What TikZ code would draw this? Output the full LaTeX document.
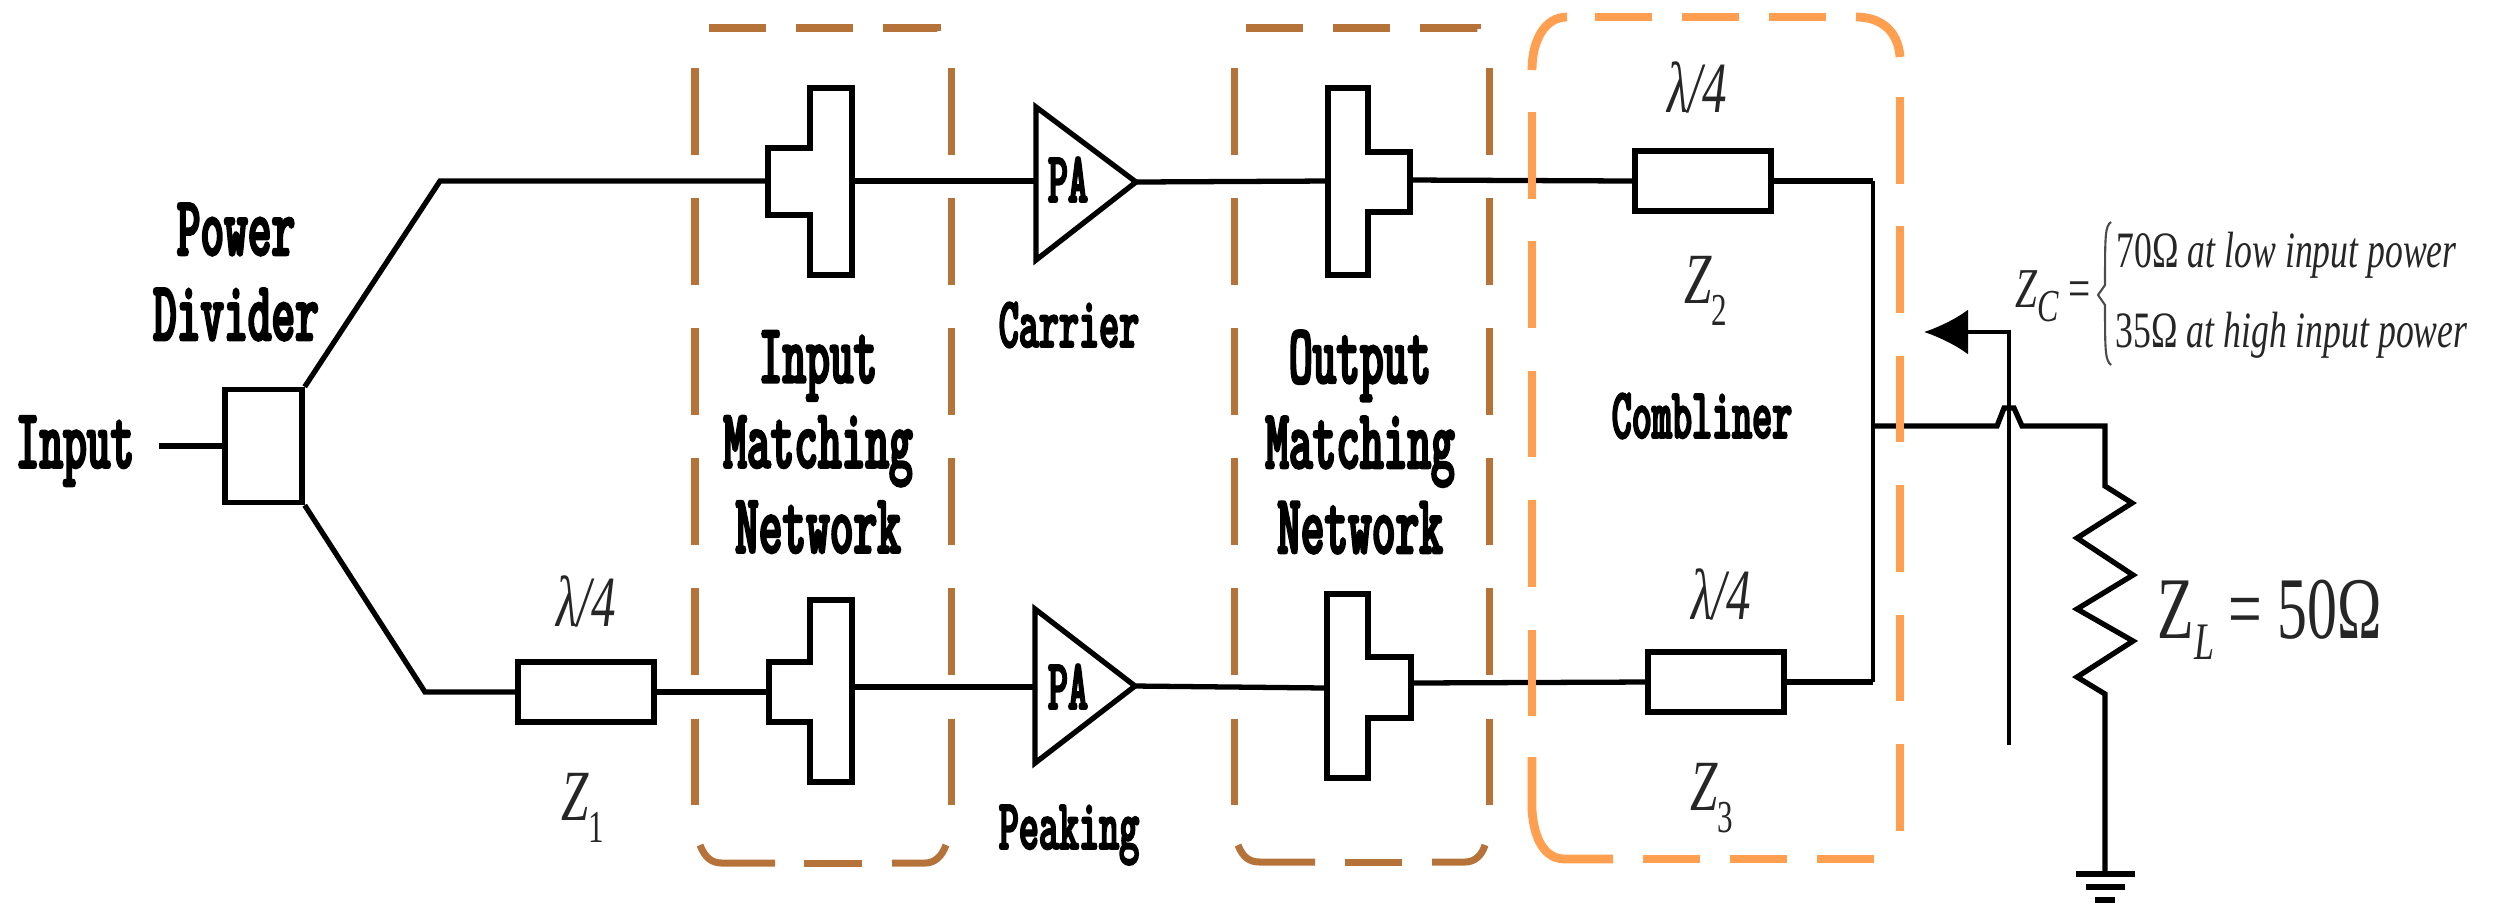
\documentclass[tikz,border=0pt]{standalone}
\usepackage{fontspec}
\usepackage{tikz}
\usetikzlibrary{arrows.meta}

\newfontfamily\slabfam[FakeStretch=0.53,FakeBold=2.5,Extension=.otf]{lmmonolt10-bold}
\newfontfamily\zfam[FakeStretch=0.68]{Liberation Serif}
\newfontfamily\notefam[FakeStretch=0.7]{Liberation Serif}
\newcommand{\zsub}[2][-6.5pt]{\raisebox{#1}{\fontsize{13}{13}\selectfont #2}}

\definecolor{brownbox}{HTML}{B5733A}
\definecolor{orangebox}{HTML}{FF9F4F}

\tikzset{
  wire/.style={line width=1.5pt,line join=miter},
  thinwire/.style={line width=1.1pt},
  qwave/.style={draw,wire,fill=white,inner sep=0pt,minimum width=1.36cm,minimum height=0.6cm},
  bigtxt/.style={font=\slabfam\fontsize{24.2}{24.2}\selectfont,inner sep=0pt,align=center},
  smalltxt/.style={font=\slabfam\fontsize{20.5}{21}\selectfont,inner sep=0pt,anchor=base},
  ztxt/.style={font=\zfam\itshape\fontsize{20.5}{22}\selectfont,inner sep=0pt,anchor=base,text=black!85},
  notetxt/.style={font=\notefam\itshape\fontsize{14.5}{16}\selectfont,inner sep=0pt,anchor=base west,text=black!85},
  brownline/.style={draw=brownbox,line width=2pt},
  orangeline/.style={draw=orangebox,line width=2.5pt},
  vdash/.style={dash pattern=on 24.6pt off 12.4pt},
  hdash/.style={dash pattern=on 16.3pt off 8.4pt}
}

\begin{document}
\begin{tikzpicture}[x=0.01cm,y=-0.01cm]
        \useasboundingbox (0,0) rectangle (2501,920);

        % Power divider
        \coordinate (instart) at (159,446);
        \node[draw,wire,inner sep=0pt,minimum width=0.77cm,minimum height=1.13cm] (pd) at (263.5,446) {};
        \node[bigtxt] (lblinput) at (75,451) {Input};
        \node[bigtxt] (lblpd) at (236,272) {Power\\Divider};
        \draw[wire] (instart) -- (pd.west);

        % Quarter wave sections
        \node[qwave] (qwa) at (586,692) {};
        \node[qwave] (qwb) at (1703,181) {};
        \node[qwave] (qwc) at (1716,682) {};

        % Input matching stubs
        \coordinate (tiaw) at (768,181);
        \coordinate (tiae) at (852,181);
        \draw[wire] (768,148) -- (810,148) -- (810,88) -- (852,88) -- (852,275) -- (810,275) -- (810,215) -- (768,215) -- cycle;
        \coordinate (tibw) at (769,692);
        \coordinate (tibe) at (852,687);
        \draw[wire] (769,662) -- (810,662) -- (810,600) -- (852,600) -- (852,782) -- (810,782) -- (810,722) -- (769,722) -- cycle;

        % Output matching stubs
        \coordinate (toaw) at (1328,181);
        \coordinate (toae) at (1410,180);
        \draw[wire] (1410,152) -- (1368,152) -- (1368,88) -- (1328,88) -- (1328,275) -- (1368,275) -- (1368,212) -- (1410,212) -- cycle;
        \coordinate (tobw) at (1327,688);
        \coordinate (tobe) at (1411,683);
        \draw[wire] (1411,657) -- (1368,657) -- (1368,594) -- (1327,594) -- (1327,778) -- (1368,778) -- (1368,718) -- (1411,718) -- cycle;

        % Amplifiers
        \coordinate (paain) at (1036,181);
        \coordinate (paaout) at (1136,182);
        \draw[wire] (1036,107) -- (paaout) -- (1036,260) -- cycle;
        \node[smalltxt] (lblpaa) at (1068,202) {PA};
        \node[smalltxt] (lblcarrier) at (1069,347) {Carrier};
        \coordinate (pabin) at (1035,687);
        \coordinate (pabout) at (1135,686);
        \draw[wire] (1035,609) -- (pabout) -- (1035,763) -- cycle;
        \node[smalltxt] (lblpab) at (1068,709) {PA};
        \node[smalltxt] (lblpeaking) at (1069,849) {Peaking};

        % Upper and lower branch
        \coordinate (bendup) at (440,181);
        \coordinate (benddown) at (425,692);
        \draw[wire] (pd.north east) -- (bendup) -- (tiaw);
        \draw[wire] (pd.south east) -- (benddown) -- (qwa.west);
        \draw[wire] (qwa.east) -- (tibw);
        \draw[wire] (tiae) -- (paain);
        \draw[wire] (tibe) -- (pabin);
        \draw[wire] (paaout) -- (toaw);
        \draw[wire] (pabout) -- (tobw);
        \draw[wire] (toae) -- (qwb.west);
        \draw[wire] (tobe) -- (qwc.west);

        % Combiner node and load
        \coordinate (combup) at (1873,181);
        \coordinate (combdown) at (1873,682);
        \coordinate (combmid) at (1873,426);
        \coordinate (loadtop) at (2105,426);
        \coordinate (gnd) at (2105,874);
        \draw[wire] (qwb.east) -- (combup);
        \draw[wire] (qwc.east) -- (combdown);
        \draw[thinwire] (combup) -- (combdown);
        \draw[wire] (combmid) -- (1997,426) -- (2004,408) -- (2014,408) -- (2022,426) -- (loadtop) -- (2105,486) -- (2132,503) -- (2077,538) -- (2133,575) -- (2077,609) -- (2133,641) -- (2077,677) -- (2105,694) -- (gnd);

        % Ground
        \draw[wire] (2076,874) -- (2135,874);
        \draw[wire] (2086,887) -- (2125,887);
        \draw[wire] (2095,900) -- (2115,900);

        % Impedance arrow
        \coordinate (sensebot) at (2009,745);
        \coordinate (sensetip) at (1924,332);
        \draw[thinwire,-{Latex[length=0.44cm,width=0.45cm]}] (sensebot) -- (2009,332) -- (sensetip);

        % Quarter wave labels
        \node[ztxt] (lbllama) at (586,626) {λ/4};
        \node[ztxt] (lbllamb) at (1697,112) {λ/4};
        \node[ztxt] (lbllamc) at (1721,619) {λ/4};
        \node[ztxt] (lblzone) at (583,820) {Z\zsub{\upshape 1}};
        \node[ztxt] (lblztwo) at (1706,303) {Z\zsub{\upshape 2}};
        \node[ztxt] (lblzthree) at (1712,810) {Z\zsub{\upshape 3}};

        % Impedance labels
        \node[font=\zfam\fontsize{25}{27}\selectfont,inner sep=0pt,anchor=base west,text=black!85] (lblzl) at (2157,638) {Z\raisebox{-6pt}{\fontsize{15}{15}\selectfont\itshape L}\,=\,50Ω};
        \node[font=\notefam\itshape\fontsize{16}{18}\selectfont,inner sep=0pt,anchor=base west,text=black!85] (lblzc) at (2015,307) {Z\zsub[-4pt]{C}\,\upshape =};
        \draw[line width=0.6pt,black!70] (2111,222) .. controls (2105,226) and (2105,236) .. (2105,285) -- (2098,295) -- (2105,305) .. controls (2105,350) and (2105,360) .. (2111,365);
        \node[notetxt] (lbllow) at (2116,267) {{\upshape 70Ω} at low input power};
        \node[notetxt] (lblhigh) at (2115,347) {{\upshape 35Ω} at high input power};

        % Matching network labels
        \node[bigtxt] (lblinm) at (818,442) {Input\\Matching\\Network};
        \node[bigtxt] (lbloutm) at (1360,442) {Output\\Matching\\Network};
        \node[smalltxt] (lblcomb) at (1702,438) {Combliner};

        % Input matching box
        \draw[brownline,vdash] (695,68) -- (695,805);
        \draw[brownline,vdash] (951,68) -- (951,805);
        \draw[brownline,hdash] (709,28) -- (937,28) -- (937,34);
        \draw[brownline] (700,845) .. controls (705,858) and (712,863) .. (722,863) -- (775,863);
        \draw[brownline] (804,863) -- (862,863);
        \draw[brownline] (892,863) -- (925,863) .. controls (935,863) and (942,856) .. (946,845);

        % Output matching box
        \draw[brownline,vdash] (1234,68) -- (1234,805);
        \draw[brownline,vdash] (1489,68) -- (1489,805);
        \draw[brownline,hdash] (1246,28) -- (1477,28) -- (1477,35);
        \draw[brownline] (1238,845) .. controls (1243,858) and (1250,862) .. (1260,862) -- (1315,862);
        \draw[brownline] (1345,862) -- (1402,862);
        \draw[brownline] (1432,862) -- (1465,862) .. controls (1475,862) and (1482,855) .. (1485,845);

        % Combiner box
        \draw[orangeline] (1532,70) .. controls (1532,40) and (1545,17) .. (1567,17);
        \draw[orangeline,hdash] (1595,17) -- (1855,17);
        \draw[orangeline] (1856,17) .. controls (1880,17) and (1898,30) .. (1900,57);
        \draw[orangeline,dash pattern=on 24.6pt off 12.2pt] (1532,112) -- (1532,745);
        \draw[orangeline] (1532,757) -- (1532,810) .. controls (1534,840) and (1545,859) .. (1565,859) -- (1613,859);
        \draw[orangeline,hdash] (1643,859) -- (1875,859);
        \draw[orangeline,dash pattern=on 24.6pt off 12.2pt] (1900,97) -- (1900,837);

\end{tikzpicture}
\end{document}
